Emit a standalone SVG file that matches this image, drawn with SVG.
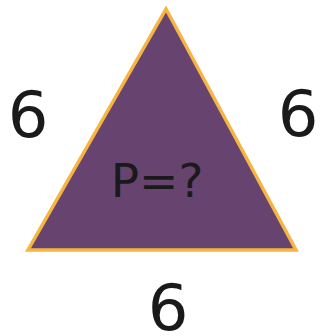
<svg xmlns="http://www.w3.org/2000/svg" width="321" height="336" viewBox="0 0 321 336">
<style>
.lbl{font-family:"DejaVu Sans",sans-serif;fill:#1a1a1a;text-anchor:middle}
.big{font-size:64px}
</style>
<rect width="321" height="336" fill="#ffffff"/>
<g id="triangle">
<polygon points="166,9 28,250 296,250" fill="#67436f" stroke="#f6b440" stroke-width="3.5" stroke-linejoin="miter"/>
<text class="lbl" x="157" y="197" font-size="47">P=?</text>
</g>
<g id="labels">
<text class="lbl big" x="28" y="137">6</text>
<text class="lbl big" x="298" y="136">6</text>
<text class="lbl big" x="168" y="330">6</text>
</g>
</svg>
